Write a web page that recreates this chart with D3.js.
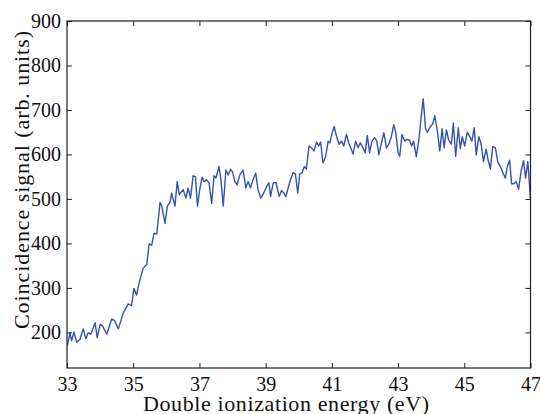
<!DOCTYPE html>
<html>
<head>
<meta charset="utf-8">
<script src="https://cdn.jsdelivr.net/npm/d3@7"></script>
<style>
  body { margin: 0; background: #fff; }
  text { font-family: 'Liberation Serif', 'DejaVu Serif', serif; fill: #111; }
</style>
</head>
<body>
<svg width="540" height="414"></svg>
<script>
// photon energy (eV) and coincidence signal
const energy = [
  33.01, 33.09, 33.14, 33.21, 33.29, 33.39, 33.49, 33.57, 33.64, 33.72,
  33.85, 33.91, 34.00, 34.08, 34.20, 34.35, 34.43, 34.55, 34.70, 34.85,
  34.95, 35.02, 35.10, 35.20, 35.30, 35.41, 35.48, 35.56, 35.63, 35.71,
  35.81, 35.86, 35.96, 36.03, 36.11, 36.16, 36.26, 36.33, 36.39, 36.51,
  36.59, 36.66, 36.73, 36.81, 36.88, 36.94, 37.01, 37.08, 37.14, 37.22,
  37.29, 37.37, 37.44, 37.50, 37.59, 37.65, 37.72, 37.80, 37.87, 37.94,
  38.00, 38.07, 38.14, 38.22, 38.32, 38.40, 38.47, 38.54, 38.62, 38.70,
  38.77, 38.85, 38.92, 39.03, 39.10, 39.15, 39.23, 39.31, 39.41, 39.48,
  39.55, 39.61, 39.68, 39.75, 39.83, 39.90, 39.97, 40.03, 40.10, 40.17,
  40.23, 40.31, 40.38, 40.46, 40.54, 40.60, 40.66, 40.73, 40.81, 40.89,
  40.94, 41.01, 41.07, 41.14, 41.22, 41.29, 41.36, 41.44, 41.51, 41.57,
  41.64, 41.72, 41.79, 41.86, 41.94, 42.01, 42.07, 42.14, 42.21, 42.29,
  42.36, 42.42, 42.49, 42.57, 42.65, 42.72, 42.80, 42.87, 42.93, 43.00,
  43.05, 43.12, 43.20, 43.27, 43.35, 43.41, 43.47, 43.55, 43.63, 43.70,
  43.76, 43.83, 43.89, 43.97, 44.05, 44.11, 44.18, 44.26, 44.33, 44.39,
  44.46, 44.53, 44.61, 44.67, 44.74, 44.82, 44.88, 44.94, 45.01, 45.09,
  45.16, 45.23, 45.30, 45.36, 45.44, 45.51, 45.58, 45.66, 45.72, 45.79,
  45.86, 45.94, 46.01, 46.10, 46.17, 46.24, 46.30, 46.37, 46.43, 46.50,
  46.57, 46.64, 46.72, 46.79, 46.85, 46.92, 47.00
]
const signal = [
  170, 199, 181, 201, 178, 184, 208, 186, 199, 196,
  222, 188, 218, 214, 196, 230, 227, 208, 244, 264,
  260, 299, 284, 318, 344, 353, 399, 396, 423, 421,
  492, 484, 445, 484, 492, 513, 484, 539, 510, 521,
  502, 524, 502, 552, 550, 484, 521, 549, 539, 543,
  536, 490, 552, 547, 573, 543, 484, 565, 554, 567,
  561, 539, 532, 554, 565, 525, 539, 525, 543, 558,
  521, 502, 510, 528, 536, 506, 536, 537, 506, 519,
  513, 505, 525, 543, 559, 556, 513, 556, 559, 573,
  567, 619, 615, 608, 628, 619, 628, 581, 595, 630,
  626, 649, 663, 641, 623, 630, 619, 645, 626, 615,
  601, 630, 615, 626, 615, 604, 643, 604, 630, 638,
  630, 599, 623, 649, 615, 623, 641, 667, 649, 604,
  596, 645, 630, 634, 632, 619, 630, 595, 634, 686,
  725, 658, 650, 662, 669, 687, 656, 608, 658, 615,
  655, 632, 623, 671, 596, 660, 613, 640, 619, 650,
  641, 630, 660, 599, 640, 623, 584, 612, 587, 567,
  618, 615, 584, 571, 558, 547, 573, 587, 534, 534,
  539, 522, 564, 586, 547, 584, 499
]
const xTicks = [33, 35, 37, 39, 41, 43, 45, 47]
const yTicks = [200, 300, 400, 500, 600, 700, 800, 900]

let svg = d3.select('svg')
let plot = { left: 67, right: 530.5, top: 21, bottom: 368 }

let x = d3.scaleLinear().domain([33, 47]).range([plot.left, plot.right])
let y = d3.scaleLinear().domain([120, 900]).range([plot.bottom, plot.top])

svg.append('rect').attr('width', 540).attr('height', 414).attr('fill', '#fff')

svg.append('clipPath').attr('id', 'clip')
  .append('rect')
  .attr('x', plot.left).attr('y', plot.top)
  .attr('width', plot.right - plot.left).attr('height', plot.bottom - plot.top)

// the trace
svg.append('path')
  .datum(d3.zip(energy, signal))
  .attr('clip-path', 'url(#clip)')
  .attr('fill', 'none')
  .attr('stroke', '#3553aa')
  .attr('stroke-width', 1.4)
  .attr('stroke-linejoin', 'round')
  .attr('d', d3.line().x(d => x(d[0])).y(d => y(d[1])))

// ticks point inward on all four sides
function styleAxis (g) {
  g.attr('font-family', null)
  g.select('.domain').remove()
  g.selectAll('.tick line').attr('stroke', '#222').attr('stroke-width', 1)
  g.selectAll('.tick text').attr('font-size', 20).attr('fill', '#111')
}

svg.append('g')
  .attr('transform', 'translate(0,' + plot.bottom + ')')
  .call(d3.axisBottom(x).tickValues(xTicks).tickSizeInner(-5).tickSizeOuter(0).tickPadding(9))
  .call(styleAxis)

svg.append('g')
  .attr('transform', 'translate(0,' + plot.top + ')')
  .call(d3.axisTop(x).tickValues(xTicks).tickSizeInner(-5).tickSizeOuter(0).tickFormat(''))
  .call(styleAxis)

svg.append('g')
  .attr('transform', 'translate(' + plot.left + ',0)')
  .call(d3.axisLeft(y).tickValues(yTicks).tickSizeInner(-5).tickSizeOuter(0).tickPadding(6))
  .call(styleAxis)

svg.append('g')
  .attr('transform', 'translate(' + plot.right + ',0)')
  .call(d3.axisRight(y).tickValues(yTicks).tickSizeInner(-5).tickSizeOuter(0).tickFormat(''))
  .call(styleAxis)

// frame
svg.append('rect')
  .attr('x', plot.left).attr('y', plot.top)
  .attr('width', plot.right - plot.left).attr('height', plot.bottom - plot.top)
  .attr('fill', 'none').attr('stroke', '#222').attr('stroke-width', 1.2)

svg.append('text')
  .attr('x', 286)
  .attr('y', 411)
  .attr('text-anchor', 'middle')
  .attr('font-size', 22)
  .attr('textLength', 286)
  .attr('lengthAdjust', 'spacing')
  .text('Double ionization energy (eV)')

svg.append('text')
  .attr('transform', 'translate(29,180) rotate(-90)')
  .attr('text-anchor', 'middle')
  .attr('font-size', 22)
  .attr('textLength', 298)
  .attr('lengthAdjust', 'spacing')
  .text('Coincidence signal (arb. units)')
</script>
</body>
</html>
